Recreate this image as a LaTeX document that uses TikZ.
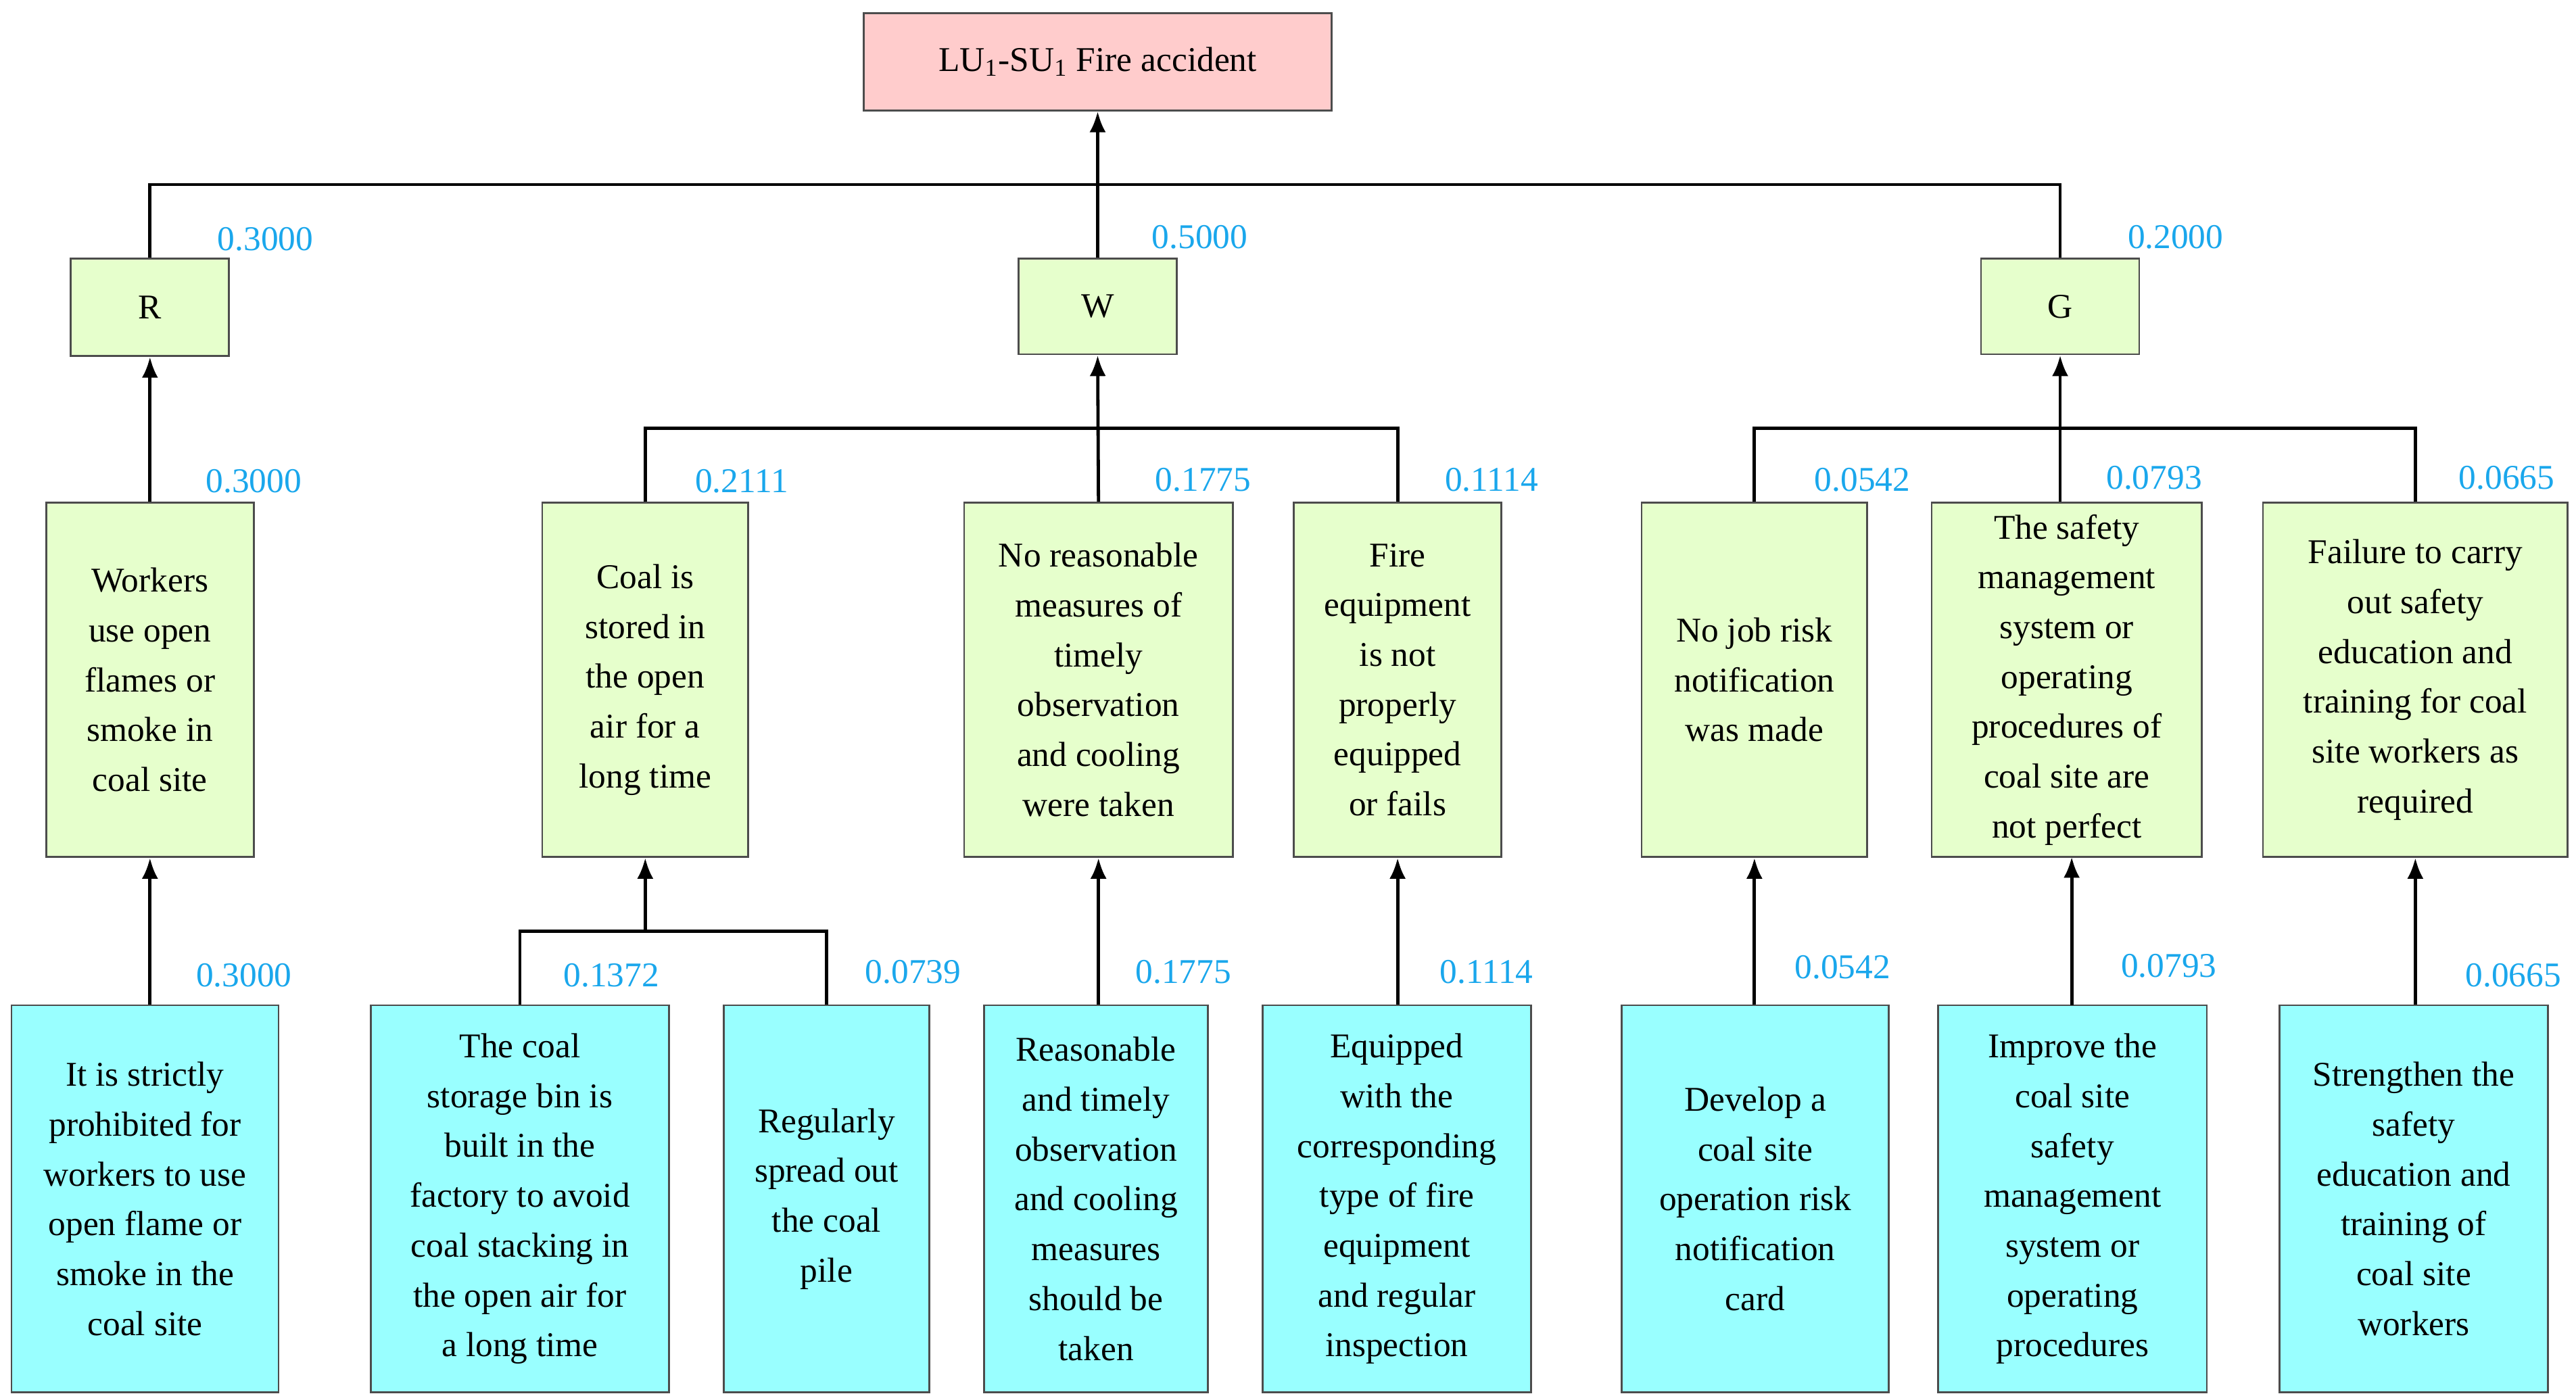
\documentclass[tikz,border=0pt]{standalone}
\usepackage{fontspec}
\setmainfont{Liberation Serif}
\usetikzlibrary{arrows.meta}
\definecolor{gfill}{HTML}{E6FFCC}
\definecolor{cfill}{HTML}{99FFFF}
\definecolor{pfill}{HTML}{FFCCCC}
\definecolor{lbl}{HTML}{1AA7EC}
\begin{document}
\begin{tikzpicture}[x=0.025cm,y=-0.025cm,
 box/.style={draw=black!70,line width=0.8pt,inner sep=0pt,align=center,font=\fontsize{15}{21.5}\selectfont},
 g/.style={box,fill=gfill}, c/.style={box,fill=cfill},
 w/.style={font=\fontsize{15}{18}\selectfont,text=lbl,anchor=center},
 con/.style={line width=1.4pt},
 arr/.style={line width=1.4pt,-{Latex[length=9pt,width=7pt]}}]
\useasboundingbox (0,0) rectangle (1563,847);
\newcommand{\bx}[6]{\node[#1,minimum width={(#4-#2)*0.025cm},minimum height={(#5-#3)*0.025cm}] (#6) at ({(#2+#4)/2},{(#3+#5)/2})}
\bx{box,fill=pfill}{524}{8}{808}{67}{T} {LU\textsubscript{1}-SU\textsubscript{1} Fire accident};
\bx{g}{43}{157}{139}{216}{R} {R};
\bx{g}{618}{157}{714}{215}{W} {W};
\bx{g}{1202}{157}{1298}{215}{G} {G};
\bx{g}{28}{305}{154}{520}{A1} {Workers\\use open\\flames or\\smoke in\\coal site};
\bx{g}{329}{305}{454}{520}{A2} {Coal is\\stored in\\the open\\air for a\\long time};
\bx{g}{585}{305}{748}{520}{A3} {No reasonable\\measures of\\timely\\observation\\and cooling\\were taken};
\bx{g}{785}{305}{911}{520}{A4} {Fire\\equipment\\is not\\properly\\equipped\\or fails};
\bx{g}{996}{305}{1133}{520}{A5} {No job risk\\notification\\was made};
\bx{g}{1172}{305}{1336}{520}{A6} {The safety\\management\\system or\\operating\\procedures of\\coal site are\\not perfect};
\bx{g}{1373}{305}{1558}{520}{A7} {Failure to carry\\out safety\\education and\\training for coal\\site workers as\\required};
\bx{c}{7}{610}{169}{845}{B1} {It is strictly\\prohibited for\\workers to use\\open flame or\\smoke in the\\coal site};
\bx{c}{225}{610}{406}{845}{B2} {The coal\\storage bin is\\built in the\\factory to avoid\\coal stacking in\\the open air for\\a long time};
\bx{c}{439}{610}{564}{845}{B3} {Regularly\\spread out\\the coal\\pile};
\bx{c}{597}{610}{733}{845}{B4} {Reasonable\\and timely\\observation\\and cooling\\measures\\should be\\taken};
\bx{c}{766}{610}{929}{845}{B5} {Equipped\\with the\\corresponding\\type of fire\\equipment\\and regular\\inspection};
\bx{c}{984}{610}{1146}{845}{B6} {Develop a\\coal site\\operation risk\\notification\\card};
\bx{c}{1176}{610}{1339}{845}{B7} {Improve the\\coal site\\safety\\management\\system or\\operating\\procedures};
\bx{c}{1383}{610}{1546}{845}{B8} {Strengthen the\\safety\\education and\\training of\\coal site\\workers};
% top level
\draw[con] (R.north) |- (G.north |- 0,112) -- (G.north);
\draw[arr] (W.north) -- (T.south);
% W children
\draw[con] (A2.north) |- (A4.north |- 0,260) -- (A4.north);
\draw[arr] (A3.north) -- (W.south);
% G children
\draw[con] (A5.north) |- (A7.north |- 0,260) -- (A7.north);
\draw[arr] (A6.north -| G.south) -- (G.south);
\draw[arr] (A1.north) -- (R.south);
% bottom
\draw[con] (B2.north) |- (B3.north |- 0,565) -- (B3.north);
\draw[arr] (A2.south |- 0,565) -- (A2.south);
\draw[arr] (B1.north -| A1.south) -- (A1.south);
\draw[arr] (B4.north -| A3.south) -- (A3.south);
\draw[arr] (B5.north -| A4.south) -- (A4.south);
\draw[arr] (B6.north -| A5.south) -- (A5.south);
\draw[arr] (1257,610) -- (1257,520);
\draw[arr] (B8.north -| A7.south) -- (A7.south);
% weights
\foreach \x/\y/\t [count=\i] in {161/145/0.3000,728/144/0.5000,1320/144/0.2000,154/292/0.3000,450/292/0.2111,730/291/0.1775,905/291/0.1114,1130/291/0.0542,1307/290/0.0793,1521/290/0.0665,148/592/0.3000,371/592/0.1372,554/590/0.0739,718/590/0.1775,902/590/0.1114,1118/587/0.0542,1316/586/0.0793,1525/592/0.0665}
 \node[w] (n\i) at (\x,\y) {\t};
\end{tikzpicture}
\end{document}
